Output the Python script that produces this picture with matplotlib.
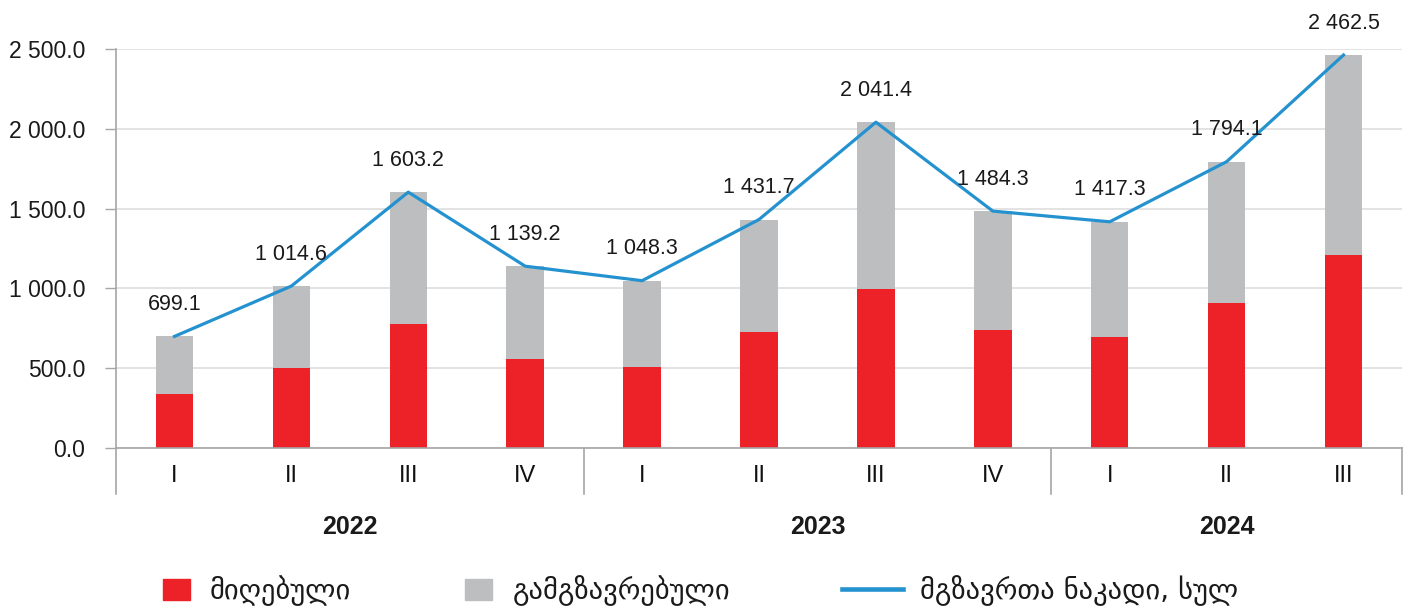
import matplotlib
matplotlib.use("Agg")
import matplotlib.pyplot as plt
import matplotlib.transforms as mtransforms
from matplotlib.patches import Rectangle
from matplotlib.lines import Line2D

# quarters 2022 I .. 2024 III
quarters = ["I", "II", "III", "IV", "I", "II", "III", "IV", "I", "II", "III"]
years = ["2022", "2023", "2024"]
year_sizes = [4, 4, 3]
totals = [699.1, 1014.6, 1603.2, 1139.2, 1048.3, 1431.7, 2041.4, 1484.3, 1417.3, 1794.1, 2462.5]
received = [338, 499, 777, 558, 507, 729, 998, 739, 693, 908, 1209]
departed = [t - r for t, r in zip(totals, received)]

legend_labels = ["მიღებული", "გამგზავრებული", "მგზავრთა ნაკადი, სულ"]

RED = "#ed2228"
GRAY = "#bdbec0"
BLUE = "#2592d0"

NUM_FONT = ["Liberation Sans", "DejaVu Sans"]
GEO_FONT = ["DejaVu Sans"]


def fmt(v):
    s = f"{v:,.1f}"
    return s.replace(",", " ")


W, H = 1407, 606
fig = plt.figure(figsize=(W / 100, H / 100), dpi=100)
ax = fig.add_axes([116 / W, 1 - 448 / H, (1402 - 116) / W, (448 - 49) / H])

x = list(range(len(totals)))
ax.bar(x, received, width=0.32, color=RED, zorder=2)
ax.bar(x, departed, width=0.32, bottom=received, color=GRAY, zorder=2)
ax.plot(x, totals, color=BLUE, lw=2.3, zorder=3)

for xi, t in zip(x, totals):
    ax.annotate(fmt(t), (xi, t), xytext=(0, 23), textcoords="offset points",
                ha="center", va="center", fontsize=15.5, family=NUM_FONT, color="#1a1a1a")

ax.set_xlim(-0.5, 10.5)
ax.set_ylim(0, 2500)
ax.set_yticks([0, 500, 1000, 1500, 2000, 2500])
ax.set_yticklabels([fmt(v) for v in [0, 500, 1000, 1500, 2000, 2500]],
                   fontsize=16.5, family=NUM_FONT, color="#1a1a1a")
ax.tick_params(axis="y", length=8, width=1, color="#a6a6a6", pad=14)
ax.set_xticks([])
ax.grid(axis="y", color="#e0e0e0", lw=1.3, zorder=0)
ax.set_axisbelow(True)
for s in ["top", "right"]:
    ax.spines[s].set_visible(False)
for s in ["left", "bottom"]:
    ax.spines[s].set_color("#a6a6a6")
    ax.spines[s].set_linewidth(1.2)

# category axis: quarter labels, year labels and separators
trans = mtransforms.blended_transform_factory(ax.transData, ax.transAxes)
ah = 448 - 49
for xi, q in zip(x, quarters):
    ax.text(xi, -(476 - 448) / ah, q, transform=trans, ha="center", va="center",
            fontsize=17, family=NUM_FONT, color="#111111")

start = 0
bounds = [-0.5]
for y, n in zip(years, year_sizes):
    mid = start + (n - 1) / 2
    ax.text(mid, -(527 - 448) / ah, y, transform=trans, ha="center", va="center",
            fontsize=18, fontweight="bold", family=NUM_FONT, color="#1a1a1a")
    start += n
    bounds.append(start - 0.5)
for b in bounds:
    ax.plot([b, b], [0, -(494 - 448) / ah], transform=trans, color="#a6a6a6",
            lw=1.2, clip_on=False)

# legend drawn in figure pixels
def fx(px):
    return px / W


def fy(py):
    return 1 - py / H


fig.add_artist(Rectangle((fx(163), fy(600)), 27 / W, 21 / H, transform=fig.transFigure,
                         color=RED))
fig.add_artist(Rectangle((fx(465), fy(600)), 27 / W, 21 / H, transform=fig.transFigure,
                         color=GRAY))
fig.add_artist(Line2D([fx(842), fx(903)], [fy(589), fy(589)], transform=fig.transFigure,
                      color=BLUE, lw=3.3))
for px, lab in zip([210, 513, 920], legend_labels):
    fig.text(fx(px), fy(591), lab, ha="left", va="center", fontsize=20.5,
             family=GEO_FONT, color="#1a1a1a")

fig.savefig("out.png", dpi=100)
